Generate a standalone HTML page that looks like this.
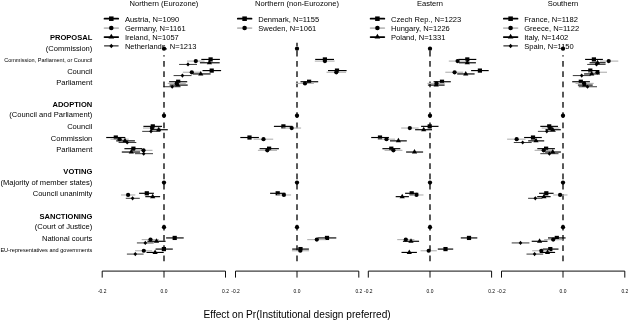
<!DOCTYPE html>
<html><head><meta charset="utf-8"><title>Effect on Pr(Institutional design preferred)</title>
<style>
html,body{margin:0;padding:0;background:#fff;}
body{width:628px;height:320px;overflow:hidden;}
svg{display:block;}
text{font-family:"Liberation Sans",Arial,Helvetica,sans-serif;fill:#000;}
.n{font-size:7.55px;}
.b{font-size:7.55px;font-weight:bold;}
.s{font-size:5.55px;}
.t{font-size:4.9px;}
.x{font-size:10.15px;}
</style></head><body>
<svg width="628" height="320" viewBox="0 0 628 320">
<rect width="628" height="320" fill="#fff"/>

<g text-anchor="end">
<text class="b" x="92.3" y="40">PROPOSAL</text>
<text class="n" x="92.3" y="51">(Commission)</text>
<text class="s" x="92.3" y="62">Commission, Parliament, or Council</text>
<text class="n" x="92.3" y="74">Council</text>
<text class="n" x="92.3" y="85">Parliament</text>
<text class="b" x="92.3" y="107">ADOPTION</text>
<text class="n" x="92.3" y="117">(Council and Parliament)</text>
<text class="n" x="92.3" y="129">Council</text>
<text class="n" x="92.3" y="141">Commission</text>
<text class="n" x="92.3" y="152">Parliament</text>
<text class="b" x="92.3" y="174">VOTING</text>
<text class="n" x="92.3" y="185">(Majority of member states)</text>
<text class="n" x="92.3" y="196">Council unanimity</text>
<text class="b" x="92.3" y="219">SANCTIONING</text>
<text class="n" x="92.3" y="229">(Court of Justice)</text>
<text class="n" x="92.3" y="241">National courts</text>
<text class="s" x="92.3" y="252">EU-representatives and governments</text>
</g>
<line x1="164.0" x2="164.0" y1="55.3" y2="261.3" stroke="#000" stroke-width="1.3" stroke-dasharray="5.7 4.53" stroke-dashoffset="4.47"/>
<text class="n" text-anchor="middle" x="164.0" y="6">Northern (Eurozone)</text>
<line x1="104.5" x2="118.2" y1="18.70" y2="18.70" stroke="#000" stroke-width="1.75" stroke-linecap="round"/>
<rect x="109.03" y="16.43" width="4.54" height="4.54"/>
<text class="n" x="124.9" y="22">Austria, N=1090</text>
<line x1="104.5" x2="118.2" y1="28.00" y2="28.00" stroke="#bbb" stroke-width="1.75" stroke-linecap="round"/>
<circle cx="111.30" cy="28.00" r="2.29"/>
<text class="n" x="124.9" y="31">Germany, N=1161</text>
<line x1="104.5" x2="118.2" y1="37.00" y2="37.00" stroke="#000" stroke-width="1.75" stroke-linecap="round"/>
<path d="M111.30 33.76L114.11 38.62L108.49 38.62Z"/>
<text class="n" x="124.9" y="40">Ireland, N=1057</text>
<line x1="104.5" x2="118.2" y1="45.90" y2="45.90" stroke="#000" stroke-width="1.0" stroke-linecap="round"/>
<path d="M111.30 43.63L113.24 45.90L111.30 48.17L109.36 45.90Z"/>
<text class="n" x="124.9" y="49">Netherlands, N=1213</text>
<path d="M102.2 277.6V271.1H225.5V277.6M164.0 271.1V277.6" fill="none" stroke="#000" stroke-width="0.95"/>
<text class="t" text-anchor="middle" x="102.2" y="293">-0.2</text>
<text class="t" text-anchor="middle" x="164.0" y="293">0.0</text>
<text class="t" text-anchor="middle" x="225.5" y="293">0.2</text>
<line x1="201.3" x2="219.9" y1="59.43" y2="59.43" stroke="#000" stroke-width="1.15"/>
<line x1="202.5" x2="221.1" y1="70.59" y2="70.59" stroke="#000" stroke-width="1.15"/>
<line x1="169.1" x2="187.2" y1="81.74" y2="81.74" stroke="#000" stroke-width="1.15"/>
<line x1="143.4" x2="162.0" y1="126.37" y2="126.37" stroke="#000" stroke-width="1.15"/>
<line x1="106.2" x2="125.3" y1="137.52" y2="137.52" stroke="#000" stroke-width="1.15"/>
<line x1="124.4" x2="142.0" y1="148.68" y2="148.68" stroke="#000" stroke-width="1.15"/>
<line x1="139.1" x2="153.9" y1="193.30" y2="193.30" stroke="#000" stroke-width="1.15"/>
<line x1="166.1" x2="183.7" y1="237.93" y2="237.93" stroke="#000" stroke-width="1.15"/>
<line x1="155.6" x2="172.8" y1="249.08" y2="249.08" stroke="#000" stroke-width="1.15"/>
<rect x="208.50" y="57.33" width="4.20" height="4.20"/>
<rect x="209.60" y="68.49" width="4.20" height="4.20"/>
<rect x="176.10" y="79.64" width="4.20" height="4.20"/>
<rect x="150.70" y="124.27" width="4.20" height="4.20"/>
<rect x="113.70" y="135.42" width="4.20" height="4.20"/>
<rect x="131.30" y="146.58" width="4.20" height="4.20"/>
<rect x="144.70" y="191.20" width="4.20" height="4.20"/>
<rect x="172.60" y="235.83" width="4.20" height="4.20"/>
<rect x="161.80" y="246.98" width="4.20" height="4.20"/>
<line x1="187.0" x2="204.6" y1="61.10" y2="61.10" stroke="#b4b4b4" stroke-width="1.15"/>
<line x1="182.9" x2="200.7" y1="72.26" y2="72.26" stroke="#b4b4b4" stroke-width="1.15"/>
<line x1="167.7" x2="185.8" y1="83.41" y2="83.41" stroke="#b4b4b4" stroke-width="1.15"/>
<line x1="143.0" x2="161.0" y1="128.04" y2="128.04" stroke="#b4b4b4" stroke-width="1.15"/>
<line x1="110.5" x2="128.7" y1="139.19" y2="139.19" stroke="#b4b4b4" stroke-width="1.15"/>
<line x1="134.9" x2="152.5" y1="150.35" y2="150.35" stroke="#b4b4b4" stroke-width="1.15"/>
<line x1="121.0" x2="135.3" y1="194.97" y2="194.97" stroke="#b4b4b4" stroke-width="1.15"/>
<line x1="141.7" x2="158.9" y1="239.60" y2="239.60" stroke="#b4b4b4" stroke-width="1.15"/>
<line x1="135.0" x2="152.2" y1="250.75" y2="250.75" stroke="#b4b4b4" stroke-width="1.15"/>
<circle cx="195.80" cy="61.10" r="2.12"/>
<circle cx="191.80" cy="72.26" r="2.12"/>
<circle cx="176.70" cy="83.41" r="2.12"/>
<circle cx="152.00" cy="128.04" r="2.12"/>
<circle cx="119.60" cy="139.19" r="2.12"/>
<circle cx="143.50" cy="150.35" r="2.12"/>
<circle cx="128.10" cy="194.97" r="2.12"/>
<circle cx="150.50" cy="239.60" r="2.12"/>
<circle cx="143.80" cy="250.75" r="2.12"/>
<line x1="199.9" x2="219.7" y1="62.78" y2="62.78" stroke="#000" stroke-width="1.15"/>
<line x1="192.9" x2="210.6" y1="73.94" y2="73.94" stroke="#000" stroke-width="1.15"/>
<line x1="169.6" x2="187.7" y1="85.09" y2="85.09" stroke="#000" stroke-width="1.15"/>
<line x1="150.6" x2="167.8" y1="129.72" y2="129.72" stroke="#000" stroke-width="1.15"/>
<line x1="116.2" x2="134.9" y1="140.87" y2="140.87" stroke="#000" stroke-width="1.15"/>
<line x1="121.8" x2="140.1" y1="152.03" y2="152.03" stroke="#000" stroke-width="1.15"/>
<line x1="145.3" x2="160.1" y1="196.65" y2="196.65" stroke="#000" stroke-width="1.15"/>
<line x1="147.4" x2="165.6" y1="241.28" y2="241.28" stroke="#000" stroke-width="1.15"/>
<line x1="146.5" x2="163.7" y1="252.43" y2="252.43" stroke="#000" stroke-width="1.15"/>
<path d="M209.40 59.78L212.00 64.28L206.80 64.28Z"/>
<path d="M200.75 70.94L203.35 75.44L198.15 75.44Z"/>
<path d="M177.70 82.09L180.30 86.59L175.10 86.59Z"/>
<path d="M158.70 126.72L161.30 131.22L156.10 131.22Z"/>
<path d="M125.00 137.87L127.60 142.37L122.40 142.37Z"/>
<path d="M131.30 149.03L133.90 153.53L128.70 153.53Z"/>
<path d="M152.70 193.65L155.30 198.15L150.10 198.15Z"/>
<path d="M156.50 238.28L159.10 242.78L153.90 242.78Z"/>
<path d="M155.10 249.43L157.70 253.93L152.50 253.93Z"/>
<line x1="179.1" x2="197.0" y1="64.43" y2="64.43" stroke="#000" stroke-width="0.78"/>
<line x1="173.6" x2="191.5" y1="75.59" y2="75.59" stroke="#000" stroke-width="0.78"/>
<line x1="163.4" x2="180.6" y1="86.74" y2="86.74" stroke="#000" stroke-width="0.78"/>
<line x1="142.2" x2="160.1" y1="131.37" y2="131.37" stroke="#000" stroke-width="0.78"/>
<line x1="118.6" x2="136.3" y1="142.52" y2="142.52" stroke="#000" stroke-width="0.78"/>
<line x1="134.9" x2="153.0" y1="153.68" y2="153.68" stroke="#000" stroke-width="0.78"/>
<line x1="125.8" x2="139.8" y1="198.30" y2="198.30" stroke="#000" stroke-width="0.78"/>
<line x1="136.9" x2="153.7" y1="242.93" y2="242.93" stroke="#000" stroke-width="0.78"/>
<line x1="126.9" x2="143.6" y1="254.08" y2="254.08" stroke="#000" stroke-width="0.78"/>
<path d="M188.00 62.33L189.80 64.43L188.00 66.53L186.20 64.43Z"/>
<path d="M182.40 73.49L184.20 75.59L182.40 77.69L180.60 75.59Z"/>
<path d="M172.20 84.64L174.00 86.74L172.20 88.84L170.40 86.74Z"/>
<path d="M151.00 129.27L152.80 131.37L151.00 133.47L149.20 131.37Z"/>
<path d="M127.20 140.42L129.00 142.52L127.20 144.62L125.40 142.52Z"/>
<path d="M143.70 151.58L145.50 153.68L143.70 155.78L141.90 153.68Z"/>
<path d="M132.60 196.20L134.40 198.30L132.60 200.40L130.80 198.30Z"/>
<path d="M145.30 240.83L147.10 242.93L145.30 245.03L143.50 242.93Z"/>
<path d="M135.30 251.98L137.10 254.08L135.30 256.18L133.50 254.08Z"/>
<circle cx="164.0" cy="48.70" r="2.15"/>
<circle cx="164.0" cy="115.63" r="2.15"/>
<circle cx="164.0" cy="182.57" r="2.15"/>
<circle cx="164.0" cy="227.19" r="2.15"/>
<line x1="297.0" x2="297.0" y1="42.8" y2="261.3" stroke="#000" stroke-width="1.3" stroke-dasharray="5.7 4.53" stroke-dashoffset="2.20"/>
<text class="n" text-anchor="middle" x="297.0" y="6">Northern (non-Eurozone)</text>
<line x1="237.8" x2="251.5" y1="18.70" y2="18.70" stroke="#000" stroke-width="1.75" stroke-linecap="round"/>
<rect x="242.33" y="16.43" width="4.54" height="4.54"/>
<text class="n" x="258.2" y="22">Denmark, N=1155</text>
<line x1="237.8" x2="251.5" y1="28.00" y2="28.00" stroke="#bbb" stroke-width="1.75" stroke-linecap="round"/>
<circle cx="244.60" cy="28.00" r="2.29"/>
<text class="n" x="258.2" y="31">Sweden, N=1061</text>
<path d="M235.5 277.6V271.1H358.8V277.6M297.0 271.1V277.6" fill="none" stroke="#000" stroke-width="0.95"/>
<text class="t" text-anchor="middle" x="235.5" y="293">-0.2</text>
<text class="t" text-anchor="middle" x="297.0" y="293">0.0</text>
<text class="t" text-anchor="middle" x="358.8" y="293">0.2</text>
<line x1="315.2" x2="334.0" y1="59.43" y2="59.43" stroke="#000" stroke-width="1.15"/>
<line x1="328.0" x2="346.6" y1="70.59" y2="70.59" stroke="#000" stroke-width="1.15"/>
<line x1="300.5" x2="318.2" y1="81.74" y2="81.74" stroke="#000" stroke-width="1.15"/>
<line x1="273.9" x2="292.5" y1="126.37" y2="126.37" stroke="#000" stroke-width="1.15"/>
<line x1="240.3" x2="258.9" y1="137.52" y2="137.52" stroke="#000" stroke-width="1.15"/>
<line x1="259.6" x2="278.9" y1="148.68" y2="148.68" stroke="#000" stroke-width="1.15"/>
<line x1="270.1" x2="285.3" y1="193.30" y2="193.30" stroke="#000" stroke-width="1.15"/>
<line x1="317.5" x2="336.3" y1="237.93" y2="237.93" stroke="#000" stroke-width="1.15"/>
<line x1="292.2" x2="308.9" y1="249.08" y2="249.08" stroke="#000" stroke-width="1.15"/>
<rect x="322.80" y="57.33" width="4.20" height="4.20"/>
<rect x="334.90" y="68.49" width="4.20" height="4.20"/>
<rect x="307.00" y="79.64" width="4.20" height="4.20"/>
<rect x="281.30" y="124.27" width="4.20" height="4.20"/>
<rect x="247.40" y="135.42" width="4.20" height="4.20"/>
<rect x="267.00" y="146.58" width="4.20" height="4.20"/>
<rect x="275.60" y="191.20" width="4.20" height="4.20"/>
<rect x="324.90" y="235.83" width="4.20" height="4.20"/>
<rect x="298.40" y="246.98" width="4.20" height="4.20"/>
<line x1="314.8" x2="334.6" y1="61.10" y2="61.10" stroke="#b4b4b4" stroke-width="1.15"/>
<line x1="326.5" x2="346.1" y1="72.26" y2="72.26" stroke="#b4b4b4" stroke-width="1.15"/>
<line x1="295.8" x2="313.9" y1="83.41" y2="83.41" stroke="#b4b4b4" stroke-width="1.15"/>
<line x1="282.5" x2="301.1" y1="128.04" y2="128.04" stroke="#b4b4b4" stroke-width="1.15"/>
<line x1="253.6" x2="273.2" y1="139.19" y2="139.19" stroke="#b4b4b4" stroke-width="1.15"/>
<line x1="257.9" x2="277.0" y1="150.35" y2="150.35" stroke="#b4b4b4" stroke-width="1.15"/>
<line x1="277.0" x2="291.1" y1="194.97" y2="194.97" stroke="#b4b4b4" stroke-width="1.15"/>
<line x1="307.2" x2="325.6" y1="239.60" y2="239.60" stroke="#b4b4b4" stroke-width="1.15"/>
<line x1="291.9" x2="309.1" y1="250.75" y2="250.75" stroke="#b4b4b4" stroke-width="1.15"/>
<circle cx="324.90" cy="61.10" r="2.12"/>
<circle cx="336.30" cy="72.26" r="2.12"/>
<circle cx="305.00" cy="83.41" r="2.12"/>
<circle cx="291.70" cy="128.04" r="2.12"/>
<circle cx="263.50" cy="139.19" r="2.12"/>
<circle cx="267.30" cy="150.35" r="2.12"/>
<circle cx="283.90" cy="194.97" r="2.12"/>
<circle cx="316.80" cy="239.60" r="2.12"/>
<circle cx="300.30" cy="250.75" r="2.12"/>
<circle cx="297.0" cy="48.70" r="2.15"/>
<circle cx="297.0" cy="115.63" r="2.15"/>
<circle cx="297.0" cy="182.57" r="2.15"/>
<circle cx="297.0" cy="227.19" r="2.15"/>
<line x1="430.0" x2="430.0" y1="46.2" y2="261.3" stroke="#000" stroke-width="1.3" stroke-dasharray="5.7 4.53" stroke-dashoffset="5.60"/>
<text class="n" text-anchor="middle" x="430.0" y="6">Eastern</text>
<line x1="370.6" x2="384.3" y1="18.70" y2="18.70" stroke="#000" stroke-width="1.75" stroke-linecap="round"/>
<rect x="375.13" y="16.43" width="4.54" height="4.54"/>
<text class="n" x="391.0" y="22">Czech Rep., N=1223</text>
<line x1="370.6" x2="384.3" y1="28.00" y2="28.00" stroke="#bbb" stroke-width="1.75" stroke-linecap="round"/>
<circle cx="377.40" cy="28.00" r="2.29"/>
<text class="n" x="391.0" y="31">Hungary, N=1226</text>
<line x1="370.6" x2="384.3" y1="37.00" y2="37.00" stroke="#000" stroke-width="1.75" stroke-linecap="round"/>
<path d="M377.40 33.76L380.21 38.62L374.59 38.62Z"/>
<text class="n" x="391.0" y="40">Poland, N=1331</text>
<path d="M368.3 277.6V271.1H491.6V277.6M430.0 271.1V277.6" fill="none" stroke="#000" stroke-width="0.95"/>
<text class="t" text-anchor="middle" x="368.3" y="293">-0.2</text>
<text class="t" text-anchor="middle" x="430.0" y="293">0.0</text>
<text class="t" text-anchor="middle" x="491.6" y="293">0.2</text>
<line x1="458.4" x2="476.3" y1="59.43" y2="59.43" stroke="#000" stroke-width="1.15"/>
<line x1="471.1" x2="488.7" y1="70.59" y2="70.59" stroke="#000" stroke-width="1.15"/>
<line x1="433.6" x2="450.8" y1="81.74" y2="81.74" stroke="#000" stroke-width="1.15"/>
<line x1="421.1" x2="438.5" y1="126.37" y2="126.37" stroke="#000" stroke-width="1.15"/>
<line x1="371.2" x2="388.9" y1="137.52" y2="137.52" stroke="#000" stroke-width="1.15"/>
<line x1="382.4" x2="400.3" y1="148.68" y2="148.68" stroke="#000" stroke-width="1.15"/>
<line x1="405.1" x2="418.3" y1="193.30" y2="193.30" stroke="#000" stroke-width="1.15"/>
<line x1="460.8" x2="477.3" y1="237.93" y2="237.93" stroke="#000" stroke-width="1.15"/>
<line x1="437.8" x2="453.2" y1="249.08" y2="249.08" stroke="#000" stroke-width="1.15"/>
<rect x="465.20" y="57.33" width="4.20" height="4.20"/>
<rect x="477.80" y="68.49" width="4.20" height="4.20"/>
<rect x="439.90" y="79.64" width="4.20" height="4.20"/>
<rect x="427.60" y="124.27" width="4.20" height="4.20"/>
<rect x="377.90" y="135.42" width="4.20" height="4.20"/>
<rect x="389.20" y="146.58" width="4.20" height="4.20"/>
<rect x="409.60" y="191.20" width="4.20" height="4.20"/>
<rect x="466.90" y="235.83" width="4.20" height="4.20"/>
<rect x="443.40" y="246.98" width="4.20" height="4.20"/>
<line x1="448.8" x2="466.4" y1="61.10" y2="61.10" stroke="#b4b4b4" stroke-width="1.15"/>
<line x1="445.3" x2="463.2" y1="72.26" y2="72.26" stroke="#b4b4b4" stroke-width="1.15"/>
<line x1="427.4" x2="444.6" y1="83.41" y2="83.41" stroke="#b4b4b4" stroke-width="1.15"/>
<line x1="401.2" x2="418.6" y1="128.04" y2="128.04" stroke="#b4b4b4" stroke-width="1.15"/>
<line x1="377.9" x2="395.1" y1="139.19" y2="139.19" stroke="#b4b4b4" stroke-width="1.15"/>
<line x1="384.6" x2="402.4" y1="150.35" y2="150.35" stroke="#b4b4b4" stroke-width="1.15"/>
<line x1="410.0" x2="423.5" y1="194.97" y2="194.97" stroke="#b4b4b4" stroke-width="1.15"/>
<line x1="397.2" x2="414.4" y1="239.60" y2="239.60" stroke="#b4b4b4" stroke-width="1.15"/>
<line x1="420.6" x2="436.8" y1="250.75" y2="250.75" stroke="#b4b4b4" stroke-width="1.15"/>
<circle cx="457.60" cy="61.10" r="2.12"/>
<circle cx="454.60" cy="72.26" r="2.12"/>
<circle cx="436.50" cy="83.41" r="2.12"/>
<circle cx="409.80" cy="128.04" r="2.12"/>
<circle cx="386.50" cy="139.19" r="2.12"/>
<circle cx="393.40" cy="150.35" r="2.12"/>
<circle cx="416.50" cy="194.97" r="2.12"/>
<circle cx="405.80" cy="239.60" r="2.12"/>
<circle cx="428.70" cy="250.75" r="2.12"/>
<line x1="458.9" x2="475.9" y1="62.78" y2="62.78" stroke="#000" stroke-width="1.15"/>
<line x1="457.2" x2="474.6" y1="73.94" y2="73.94" stroke="#000" stroke-width="1.15"/>
<line x1="427.9" x2="444.6" y1="85.09" y2="85.09" stroke="#000" stroke-width="1.15"/>
<line x1="415.1" x2="432.0" y1="129.72" y2="129.72" stroke="#000" stroke-width="1.15"/>
<line x1="390.0" x2="406.8" y1="140.87" y2="140.87" stroke="#000" stroke-width="1.15"/>
<line x1="406.1" x2="423.1" y1="152.03" y2="152.03" stroke="#000" stroke-width="1.15"/>
<line x1="395.7" x2="408.9" y1="196.65" y2="196.65" stroke="#000" stroke-width="1.15"/>
<line x1="402.9" x2="419.1" y1="241.28" y2="241.28" stroke="#000" stroke-width="1.15"/>
<line x1="401.5" x2="416.9" y1="252.43" y2="252.43" stroke="#000" stroke-width="1.15"/>
<path d="M467.30 59.78L469.90 64.28L464.70 64.28Z"/>
<path d="M465.75 70.94L468.35 75.44L463.15 75.44Z"/>
<path d="M436.20 82.09L438.80 86.59L433.60 86.59Z"/>
<path d="M423.70 126.72L426.30 131.22L421.10 131.22Z"/>
<path d="M398.40 137.87L401.00 142.37L395.80 142.37Z"/>
<path d="M414.50 149.03L417.10 153.53L411.90 153.53Z"/>
<path d="M402.20 193.65L404.80 198.15L399.60 198.15Z"/>
<path d="M411.00 238.28L413.60 242.78L408.40 242.78Z"/>
<path d="M409.30 249.43L411.90 253.93L406.70 253.93Z"/>
<circle cx="430.0" cy="48.70" r="2.15"/>
<circle cx="430.0" cy="115.63" r="2.15"/>
<circle cx="430.0" cy="182.57" r="2.15"/>
<circle cx="430.0" cy="227.19" r="2.15"/>
<line x1="563.0" x2="563.0" y1="55.3" y2="261.3" stroke="#000" stroke-width="1.3" stroke-dasharray="5.7 4.53" stroke-dashoffset="4.47"/>
<text class="n" text-anchor="middle" x="563.0" y="6">Southern</text>
<line x1="503.8" x2="517.5" y1="18.70" y2="18.70" stroke="#000" stroke-width="1.75" stroke-linecap="round"/>
<rect x="508.33" y="16.43" width="4.54" height="4.54"/>
<text class="n" x="524.2" y="22">France, N=1182</text>
<line x1="503.8" x2="517.5" y1="28.00" y2="28.00" stroke="#bbb" stroke-width="1.75" stroke-linecap="round"/>
<circle cx="510.60" cy="28.00" r="2.29"/>
<text class="n" x="524.2" y="31">Greece, N=1122</text>
<line x1="503.8" x2="517.5" y1="37.00" y2="37.00" stroke="#000" stroke-width="1.75" stroke-linecap="round"/>
<path d="M510.60 33.76L513.41 38.62L507.79 38.62Z"/>
<text class="n" x="524.2" y="40">Italy, N=1402</text>
<line x1="503.8" x2="517.5" y1="45.90" y2="45.90" stroke="#000" stroke-width="1.0" stroke-linecap="round"/>
<path d="M510.60 43.63L512.54 45.90L510.60 48.17L508.66 45.90Z"/>
<text class="n" x="524.2" y="49">Spain, N=1150</text>
<path d="M501.5 277.6V271.1H624.8V277.6M563.0 271.1V277.6" fill="none" stroke="#000" stroke-width="0.95"/>
<text class="t" text-anchor="middle" x="501.5" y="293">-0.2</text>
<text class="t" text-anchor="middle" x="563.0" y="293">0.0</text>
<text class="t" text-anchor="middle" x="624.8" y="293">0.2</text>
<line x1="585.1" x2="602.9" y1="59.43" y2="59.43" stroke="#000" stroke-width="1.15"/>
<line x1="581.2" x2="599.4" y1="70.59" y2="70.59" stroke="#000" stroke-width="1.15"/>
<line x1="572.2" x2="589.9" y1="81.74" y2="81.74" stroke="#000" stroke-width="1.15"/>
<line x1="540.3" x2="558.0" y1="126.37" y2="126.37" stroke="#000" stroke-width="1.15"/>
<line x1="524.1" x2="541.8" y1="137.52" y2="137.52" stroke="#000" stroke-width="1.15"/>
<line x1="537.3" x2="554.9" y1="148.68" y2="148.68" stroke="#000" stroke-width="1.15"/>
<line x1="539.1" x2="553.6" y1="193.30" y2="193.30" stroke="#000" stroke-width="1.15"/>
<line x1="548.0" x2="565.6" y1="237.93" y2="237.93" stroke="#000" stroke-width="1.15"/>
<line x1="542.7" x2="558.5" y1="249.08" y2="249.08" stroke="#000" stroke-width="1.15"/>
<rect x="591.80" y="57.33" width="4.20" height="4.20"/>
<rect x="588.20" y="68.49" width="4.20" height="4.20"/>
<rect x="578.70" y="79.64" width="4.20" height="4.20"/>
<rect x="547.10" y="124.27" width="4.20" height="4.20"/>
<rect x="530.90" y="135.42" width="4.20" height="4.20"/>
<rect x="544.00" y="146.58" width="4.20" height="4.20"/>
<rect x="544.20" y="191.20" width="4.20" height="4.20"/>
<rect x="554.70" y="235.83" width="4.20" height="4.20"/>
<rect x="548.20" y="246.98" width="4.20" height="4.20"/>
<line x1="599.9" x2="618.3" y1="61.10" y2="61.10" stroke="#b4b4b4" stroke-width="1.15"/>
<line x1="588.0" x2="607.0" y1="72.26" y2="72.26" stroke="#b4b4b4" stroke-width="1.15"/>
<line x1="575.5" x2="593.7" y1="83.41" y2="83.41" stroke="#b4b4b4" stroke-width="1.15"/>
<line x1="541.7" x2="559.4" y1="128.04" y2="128.04" stroke="#b4b4b4" stroke-width="1.15"/>
<line x1="507.1" x2="525.5" y1="139.19" y2="139.19" stroke="#b4b4b4" stroke-width="1.15"/>
<line x1="534.6" x2="552.8" y1="150.35" y2="150.35" stroke="#b4b4b4" stroke-width="1.15"/>
<line x1="553.2" x2="567.5" y1="194.97" y2="194.97" stroke="#b4b4b4" stroke-width="1.15"/>
<line x1="544.1" x2="562.3" y1="239.60" y2="239.60" stroke="#b4b4b4" stroke-width="1.15"/>
<line x1="532.2" x2="549.9" y1="250.75" y2="250.75" stroke="#b4b4b4" stroke-width="1.15"/>
<circle cx="608.70" cy="61.10" r="2.12"/>
<circle cx="597.50" cy="72.26" r="2.12"/>
<circle cx="584.10" cy="83.41" r="2.12"/>
<circle cx="550.00" cy="128.04" r="2.12"/>
<circle cx="516.65" cy="139.19" r="2.12"/>
<circle cx="543.70" cy="150.35" r="2.12"/>
<circle cx="560.10" cy="194.97" r="2.12"/>
<circle cx="553.20" cy="239.60" r="2.12"/>
<circle cx="541.30" cy="250.75" r="2.12"/>
<line x1="589.6" x2="605.6" y1="62.78" y2="62.78" stroke="#000" stroke-width="1.15"/>
<line x1="584.1" x2="599.9" y1="73.94" y2="73.94" stroke="#000" stroke-width="1.15"/>
<line x1="577.9" x2="592.7" y1="85.09" y2="85.09" stroke="#000" stroke-width="1.15"/>
<line x1="545.5" x2="560.8" y1="129.72" y2="129.72" stroke="#000" stroke-width="1.15"/>
<line x1="528.2" x2="544.2" y1="140.87" y2="140.87" stroke="#000" stroke-width="1.15"/>
<line x1="545.1" x2="560.9" y1="152.03" y2="152.03" stroke="#000" stroke-width="1.15"/>
<line x1="537.2" x2="550.6" y1="196.65" y2="196.65" stroke="#000" stroke-width="1.15"/>
<line x1="531.7" x2="547.5" y1="241.28" y2="241.28" stroke="#000" stroke-width="1.15"/>
<line x1="539.8" x2="555.1" y1="252.43" y2="252.43" stroke="#000" stroke-width="1.15"/>
<path d="M597.50 59.78L600.10 64.28L594.90 64.28Z"/>
<path d="M591.70 70.94L594.30 75.44L589.10 75.44Z"/>
<path d="M584.60 82.09L587.20 86.59L582.00 86.59Z"/>
<path d="M552.70 126.72L555.30 131.22L550.10 131.22Z"/>
<path d="M536.00 137.87L538.60 142.37L533.40 142.37Z"/>
<path d="M552.80 149.03L555.40 153.53L550.20 153.53Z"/>
<path d="M543.90 193.65L546.50 198.15L541.30 198.15Z"/>
<path d="M539.60 238.28L542.20 242.78L537.00 242.78Z"/>
<path d="M547.50 249.43L550.10 253.93L544.90 253.93Z"/>
<line x1="587.2" x2="605.6" y1="64.43" y2="64.43" stroke="#000" stroke-width="0.78"/>
<line x1="572.8" x2="590.8" y1="75.59" y2="75.59" stroke="#000" stroke-width="0.78"/>
<line x1="578.7" x2="597.0" y1="86.74" y2="86.74" stroke="#000" stroke-width="0.78"/>
<line x1="537.9" x2="555.6" y1="131.37" y2="131.37" stroke="#000" stroke-width="0.78"/>
<line x1="513.8" x2="531.7" y1="142.52" y2="142.52" stroke="#000" stroke-width="0.78"/>
<line x1="540.3" x2="558.5" y1="153.68" y2="153.68" stroke="#000" stroke-width="0.78"/>
<line x1="528.1" x2="542.4" y1="198.30" y2="198.30" stroke="#000" stroke-width="0.78"/>
<line x1="511.7" x2="529.4" y1="242.93" y2="242.93" stroke="#000" stroke-width="0.78"/>
<line x1="526.5" x2="543.2" y1="254.08" y2="254.08" stroke="#000" stroke-width="0.78"/>
<path d="M596.50 62.33L598.30 64.43L596.50 66.53L594.70 64.43Z"/>
<path d="M581.70 73.49L583.50 75.59L581.70 77.69L579.90 75.59Z"/>
<path d="M587.50 84.64L589.30 86.74L587.50 88.84L585.70 86.74Z"/>
<path d="M546.80 129.27L548.60 131.37L546.80 133.47L545.00 131.37Z"/>
<path d="M522.70 140.42L524.50 142.52L522.70 144.62L520.90 142.52Z"/>
<path d="M549.40 151.58L551.20 153.68L549.40 155.78L547.60 153.68Z"/>
<path d="M535.30 196.20L537.10 198.30L535.30 200.40L533.50 198.30Z"/>
<path d="M520.50 240.83L522.30 242.93L520.50 245.03L518.70 242.93Z"/>
<path d="M534.60 251.98L536.40 254.08L534.60 256.18L532.80 254.08Z"/>
<circle cx="563.0" cy="48.70" r="2.15"/>
<circle cx="563.0" cy="115.63" r="2.15"/>
<circle cx="563.0" cy="182.57" r="2.15"/>
<circle cx="563.0" cy="227.19" r="2.15"/>
<text class="x" x="203.5" y="318">Effect on Pr(Institutional design preferred)</text>
</svg></body></html>
